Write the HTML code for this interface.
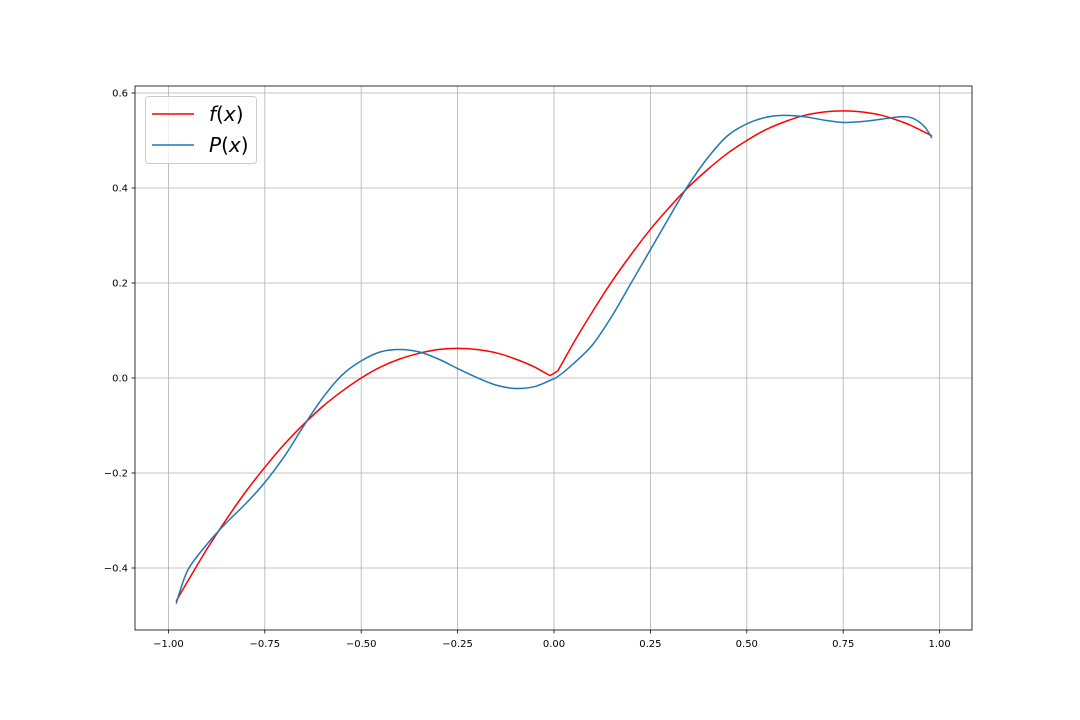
<!DOCTYPE html>
<html><head><meta charset="utf-8"><style>
body{margin:0;background:#fff;}
svg{display:block;font-family:"DejaVu Sans","Liberation Sans",sans-serif;}
</style></head><body>
<svg id="chart" width="1080" height="720"></svg>
<script>
const xTicks=[-1.00,-0.75,-0.50,-0.25,0.00,0.25,0.50,0.75,1.00];
const xTickLabels=["−1.00","−0.75","−0.50","−0.25","0.00","0.25","0.50","0.75","1.00"];
const yTicks=[-0.4,-0.2,0.0,0.2,0.4,0.6];
const yTickLabels=["−0.4","−0.2","0.0","0.2","0.4","0.6"];
const xs=[-0.98,-0.95,-0.9,-0.85,-0.8,-0.75,-0.7,-0.65,-0.6,-0.55,-0.5,-0.45,-0.4,-0.35,-0.3,-0.25,-0.2,-0.15,-0.1,-0.05,-0.01,0.01,0.05,0.1,0.15,0.2,0.25,0.3,0.35,0.4,0.45,0.5,0.55,0.6,0.65,0.7,0.75,0.8,0.85,0.9,0.93,0.96,0.98];
const fVals=[-0.47,-0.428,-0.36,-0.298,-0.24,-0.188,-0.14,-0.098,-0.06,-0.028,0,0.023,0.04,0.052,0.06,0.0625,0.06,0.053,0.04,0.023,0.005,0.015,0.073,0.14,0.203,0.26,0.313,0.36,0.403,0.44,0.473,0.5,0.523,0.54,0.553,0.56,0.5625,0.56,0.553,0.54,0.53,0.518,0.51];
const pVals=[-0.475,-0.405,-0.35,-0.305,-0.265,-0.22,-0.166,-0.102,-0.042,0.006,0.036,0.055,0.06,0.055,0.04,0.02,0.001,-0.015,-0.022,-0.018,-0.005,0.003,0.03,0.07,0.13,0.2,0.27,0.34,0.408,0.465,0.51,0.535,0.549,0.553,0.55,0.543,0.538,0.54,0.545,0.55,0.547,0.53,0.505];
const NS="http://www.w3.org/2000/svg";
const svg=document.getElementById('chart');
const L=135,R=972,T=86,B=630;
const sx=v=>554+v*385.6;
const sy=v=>378-v*475;
function mk(tag,attrs,parent){const e=document.createElementNS(NS,tag);for(const k in attrs)e.setAttribute(k,attrs[k]);(parent||svg).appendChild(e);return e;}
const grid=mk('g',{});


xTicks.forEach((t,i)=>{const x=sx(t);
 mk('line',{x1:x,x2:x,y1:T,y2:B,stroke:'#b0b0b0','stroke-width':0.8},grid);
 mk('line',{x1:x,x2:x,y1:B,y2:B+3.5,stroke:'#000','stroke-width':0.8});
 const tx=mk('text',{x:x,y:B+17,'font-size':10,'text-anchor':'middle'});tx.textContent=xTickLabels[i];
 
 });
yTicks.forEach((t,i)=>{const y=sy(t);
 mk('line',{x1:L,x2:R,y1:y,y2:y,stroke:'#b0b0b0','stroke-width':0.8},grid);
 mk('line',{x1:L-3.5,x2:L,y1:y,y2:y,stroke:'#000','stroke-width':0.8});
 const tx=mk('text',{x:L-7,y:y+3.5,'font-size':10,'text-anchor':'end'});tx.textContent=yTickLabels[i];
 
 });
function smoothPath(pts,breakAt){let d='M'+pts[0][0]+','+pts[0][1];
 for(let i=0;i<pts.length-1;i++){
  const p0=pts[Math.max(0,i-1)],p1=pts[i],p2=pts[i+1],p3=pts[Math.min(pts.length-1,i+2)];
  if(breakAt&&breakAt(i)){d+=' L'+p2[0]+','+p2[1];continue;}
  const c1=[p1[0]+(p2[0]-p0[0])/6,p1[1]+(p2[1]-p0[1])/6],c2=[p2[0]-(p3[0]-p1[0])/6,p2[1]-(p3[1]-p1[1])/6];
  d+=' C'+c1[0]+','+c1[1]+' '+c2[0]+','+c2[1]+' '+p2[0]+','+p2[1];}
 return d;}
function line(vals,color,name,kink){const pts=xs.map((x,i)=>[sx(x),sy(vals[i])]);
 const p=mk('path',{d:smoothPath(pts,kink?(i=>xs[i]>=-0.05&&xs[i]<=0.01):null),fill:'none',stroke:color,'stroke-width':1.5,'stroke-linejoin':'round'});
 
 }
line(fVals,'#ff0000','f-line',true);
line(pVals,'#1f77b4','p-line',false);
const frame=mk('rect',{x:L,y:T,width:R-L,height:B-T,fill:'none',stroke:'#000','stroke-width':0.8});


const lg=mk('g',{});


mk('rect',{x:145.5,y:96.5,width:111,height:67,rx:3,fill:'#fff','fill-opacity':0.8,stroke:'#ccc'},lg);
[['#ff0000','f','114'],['#1f77b4','P','145']].forEach(([c,n,y])=>{
 mk('line',{x1:152,x2:194,y1:y,y2:y,stroke:c,'stroke-width':1.5},lg);
 const t=mk('text',{x:209,y:+y+7,'font-size':20,'font-family':'DejaVu Sans, sans-serif'},lg);
 t.innerHTML='<tspan font-style="italic">'+n+'</tspan>(<tspan font-style="italic">x</tspan>)';
 
 
});
</script>
</body></html>
